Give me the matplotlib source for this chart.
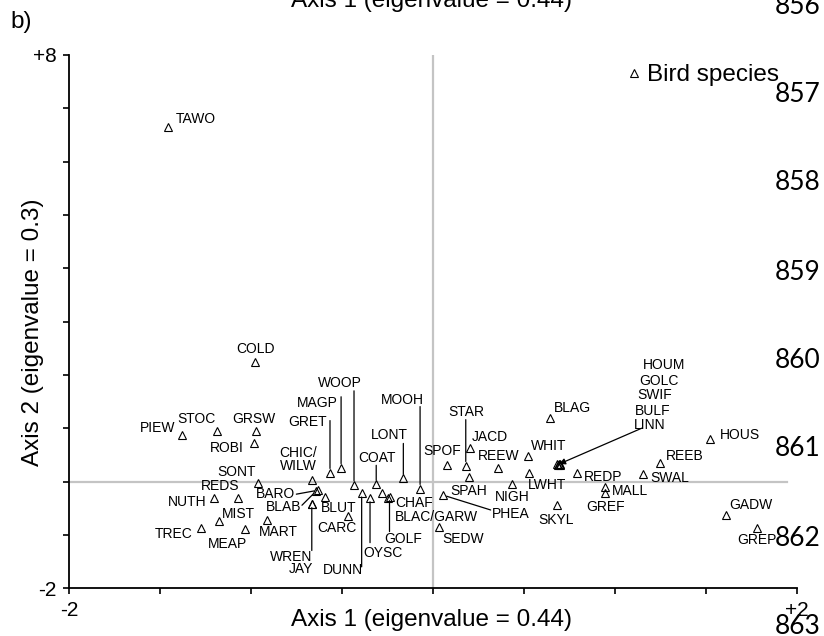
import numpy as np
import matplotlib
matplotlib.use('Agg')
import matplotlib.pyplot as plt

plt.rcParams['font.family'] = ['Liberation Sans', 'DejaVu Sans']

# species scores on the two ordination axes
species = ['TAWO', 'COLD', 'PIEW', 'STOC', 'GRSW', 'ROBI', 'SONT', 'REDS', 'NUTH',
           'MIST', 'TREC', 'MEAP', 'MART', 'CHIC/WILW', 'BARO', 'BLAB', 'WREN', 'JAY',
           'BLUT', 'CARC', 'GRET', 'MAGP', 'WOOP', 'DUNN', 'OYSC', 'COAT', 'BLAC/GARW',
           'CHAF', 'GOLF', 'LONT', 'MOOH', 'SPOF', 'STAR', 'JACD', 'SPAH', 'PHEA',
           'SEDW', 'REEW', 'NIGH', 'WHIT', 'LWHT', 'BLAG', 'HOUM', 'GOLC', 'SWIF',
           'BULF', 'LINN', 'REDP', 'MALL', 'GREF', 'SKYL', 'SWAL', 'REEB', 'HOUS',
           'GADW', 'GREP']
axis1 = [-1.456, -0.978, -1.381, -1.188, -0.974, -0.984, -0.960, -1.073, -1.202,
         -1.176, -1.276, -1.033, -0.914, -0.663, -0.630, -0.643, -0.666, -0.666,
         -0.593, -0.465, -0.566, -0.505, -0.434, -0.392, -0.346, -0.312, -0.282,
         -0.246, -0.239, -0.163, -0.071, 0.077, 0.180, 0.202, 0.196, 0.053,
         0.033, 0.359, 0.436, 0.520, 0.529, 0.643, 0.683, 0.688, 0.692,
         0.697, 0.700, 0.790, 0.945, 0.945, 0.680, 1.155, 1.247, 1.522,
         1.608, 1.780]
axis2 = [6.65, 2.24, 0.87, 0.95, 0.95, 0.72, -0.02, -0.31, -0.30,
         -0.73, -0.86, -0.88, -0.72, 0.04, -0.16, -0.18, -0.41, -0.41,
         -0.28, -0.64, 0.17, 0.26, -0.06, -0.21, -0.30, -0.05, -0.21,
         -0.30, -0.28, 0.06, -0.13, 0.31, 0.30, 0.64, 0.09, -0.25,
         -0.85, 0.25, -0.05, 0.49, 0.17, 1.19, 0.33, 0.32, 0.33,
         0.32, 0.33, 0.17, -0.10, -0.22, -0.43, 0.14, 0.35, 0.80,
         -0.63, -0.87]

line_numbers = ['856', '857', '858', '859', '860', '861', '862', '863']
line_number_y = [6.5, 95, 183, 272, 360, 448, 538, 626]

# label offsets in pixels from the triangle (dx, dy downwards, alignment)
label_pos = {
    'TAWO': (8, -8, 'left'), 'COLD': (0, -13, 'center'), 'PIEW': (-6, -7, 'right'),
    'STOC': (-20, -12, 'center'), 'GRSW': (-2, -12, 'center'), 'ROBI': (-10, 5, 'right'),
    'SONT': (-2, -11, 'right'), 'REDS': (-18, -12, 'center'), 'NUTH': (-8, 4, 'right'),
    'MIST': (3, -7, 'left'), 'TREC': (-8, 6, 'right'), 'MEAP': (-17, 15, 'center'),
    'MART': (-8, 12, 'left'), 'CHIC/WILW': (-14, -20, 'center'), 'BARO': (-23, 4, 'right'),
    'BLAB': (-15, 16, 'right'), 'WREN': (1, 53, 'right'), 'JAY': (1, 65, 'right'),
    'BLUT': (-4, 11, 'left'), 'CARC': (8, 12, 'right'), 'GRET': (-3, -51, 'right'),
    'MAGP': (-3, -65, 'right'), 'WOOP': (-14, -102, 'center'), 'DUNN': (1, 77, 'right'),
    'OYSC': (-7, 55, 'left'), 'COAT': (1, -26, 'center'), 'BLAC/GARW': (13, 24, 'left'),
    'CHAF': (7, 5, 'left'), 'GOLF': (-5, 42, 'left'), 'LONT': (-14, -43, 'center'),
    'MOOH': (-18, -89, 'center'), 'SPOF': (-5, -14, 'center'), 'STAR': (1, -54, 'center'),
    'JACD': (2, -11, 'left'), 'SPAH': (-18, 14, 'left'), 'PHEA': (49, 19, 'left'),
    'SEDW': (3, 12, 'left'), 'REEW': (0, -12, 'center'), 'NIGH': (0, 13, 'center'),
    'WHIT': (3, -10, 'left'), 'LWHT': (-1, 12, 'left'), 'BLAG': (4, -10, 'left'),
    'HOUM': (86, -99, 'left'), 'GOLC': (81, -84, 'left'), 'SWIF': (78, -69, 'left'),
    'BULF': (75, -54, 'left'), 'LINN': (73, -39, 'left'), 'REDP': (7, 4, 'left'),
    'MALL': (7, 4, 'left'), 'GREF': (1, 14, 'center'), 'SKYL': (-1, 15, 'center'),
    'SWAL': (7, 4, 'left'), 'REEB': (6, -7, 'left'), 'HOUS': (10, -4, 'left'),
    'GADW': (4, -10, 'left'), 'GREP': (0, 12, 'center'),
}
# leader lines: start offset in pixels, drawn towards the triangle
leaders = {
    'GRET': (0, -52), 'MAGP': (0, -71), 'WOOP': (0, -94), 'COAT': (0, -19),
    'LONT': (0, -35), 'MOOH': (0, -82), 'STAR': (0, -46), 'DUNN': (0, 74),
    'OYSC': (0, 45), 'GOLF': (0, 35), 'WREN': (0, 47), 'BARO': (-22, 4),
    'BLAB': (-14, 14), 'PHEA': (48, 15),
}

fig = plt.figure(figsize=(8.24, 6.36), dpi=100)
ax = fig.add_axes([69 / 824, 1 - 588.3 / 636, 728 / 824, 533.3 / 636])
ax.set_xlim(-2, 2)
ax.set_ylim(-2, 8)

ax.axhline(0, xmin=0, xmax=0.986, color='#c4c4c4', lw=1.6, zorder=1)
ax.axvline(0, color='#c4c4c4', lw=1.6, zorder=1)

ax.plot(axis1, axis2, ls='none', marker='^', ms=6, mfc='none', mec='black',
        mew=0.8, zorder=3, label='Bird species')

for name, x, y in zip(species, axis1, axis2):
    dx, dy, ha = label_pos[name]
    txt = 'CHIC/\nWILW' if name == 'CHIC/WILW' else name
    ax.annotate(txt, (x, y), xytext=(dx, -dy), textcoords='offset pixels',
                ha=ha, va='center', fontsize=10, linespacing=0.9)
    if name in leaders:
        lx, ly = leaders[name]
        ax.annotate('', (x, y), xytext=(lx, -ly), textcoords='offset pixels',
                    arrowprops=dict(arrowstyle='-', color='black', lw=0.9,
                                    shrinkA=0, shrinkB=3))

# arrow for the stacked cluster
i = species.index('HOUM')
ax.annotate('', (axis1[i] + 0.01, axis2[i]), xytext=(83, 36), textcoords='offset pixels',
            arrowprops=dict(arrowstyle='-|>', color='black', lw=0.9,
                            mutation_scale=9, shrinkA=0, shrinkB=0))

ax.spines['top'].set_visible(False)
ax.spines['right'].set_visible(False)
ax.spines['left'].set_linewidth(1.3)
ax.spines['bottom'].set_linewidth(1.3)

xt = np.arange(-2, 2.01, 0.5)
ax.set_xticks(xt)
ax.set_xticklabels(['-2'] + [''] * (len(xt) - 2) + ['+2'])
yt = np.arange(-2, 8.01, 1)
ax.set_yticks(yt)
ax.set_yticklabels(['-2'] + [''] * (len(yt) - 2) + ['+8'])
ax.tick_params(length=4, width=1.2, labelsize=15, pad=5)

ax.set_xlabel('Axis 1 (eigenvalue = 0.44)', fontsize=17.5)
ax.set_ylabel('Axis 2 (eigenvalue = 0.3)', fontsize=17.5)
ax.xaxis.label.set_va('center')
ax.yaxis.label.set_va('center')
ax.xaxis.set_label_coords((431.5 - 69) / 728, (588.3 - 620) / 533.3)
ax.yaxis.set_label_coords((33 - 69) / 728, (588.3 - 332) / 533.3)

ax.legend(loc='center left', bbox_to_anchor=(628 / 824, 1 - 75 / 636),
          bbox_transform=fig.transFigure, frameon=False, fontsize=17.5,
          handlelength=0.5, handletextpad=0.3, borderpad=0, borderaxespad=0,
          markerscale=0.9)

# cut-off title from the panel above and panel letter
fig.text(431.5 / 824, 1 - 7 / 636, 'Axis 1 (eigenvalue = 0.44)', fontsize=17.5,
         ha='center', va='baseline')
fig.text(10 / 824, 1 - 22 / 636, 'b)', fontsize=17.5, ha='left', va='center')

for num, y in zip(line_numbers, line_number_y):
    fig.text(821 / 824, 1 - y / 636, num, fontsize=19, family='Lato',
             ha='right', va='center')

fig.savefig('out.png', dpi=100)
